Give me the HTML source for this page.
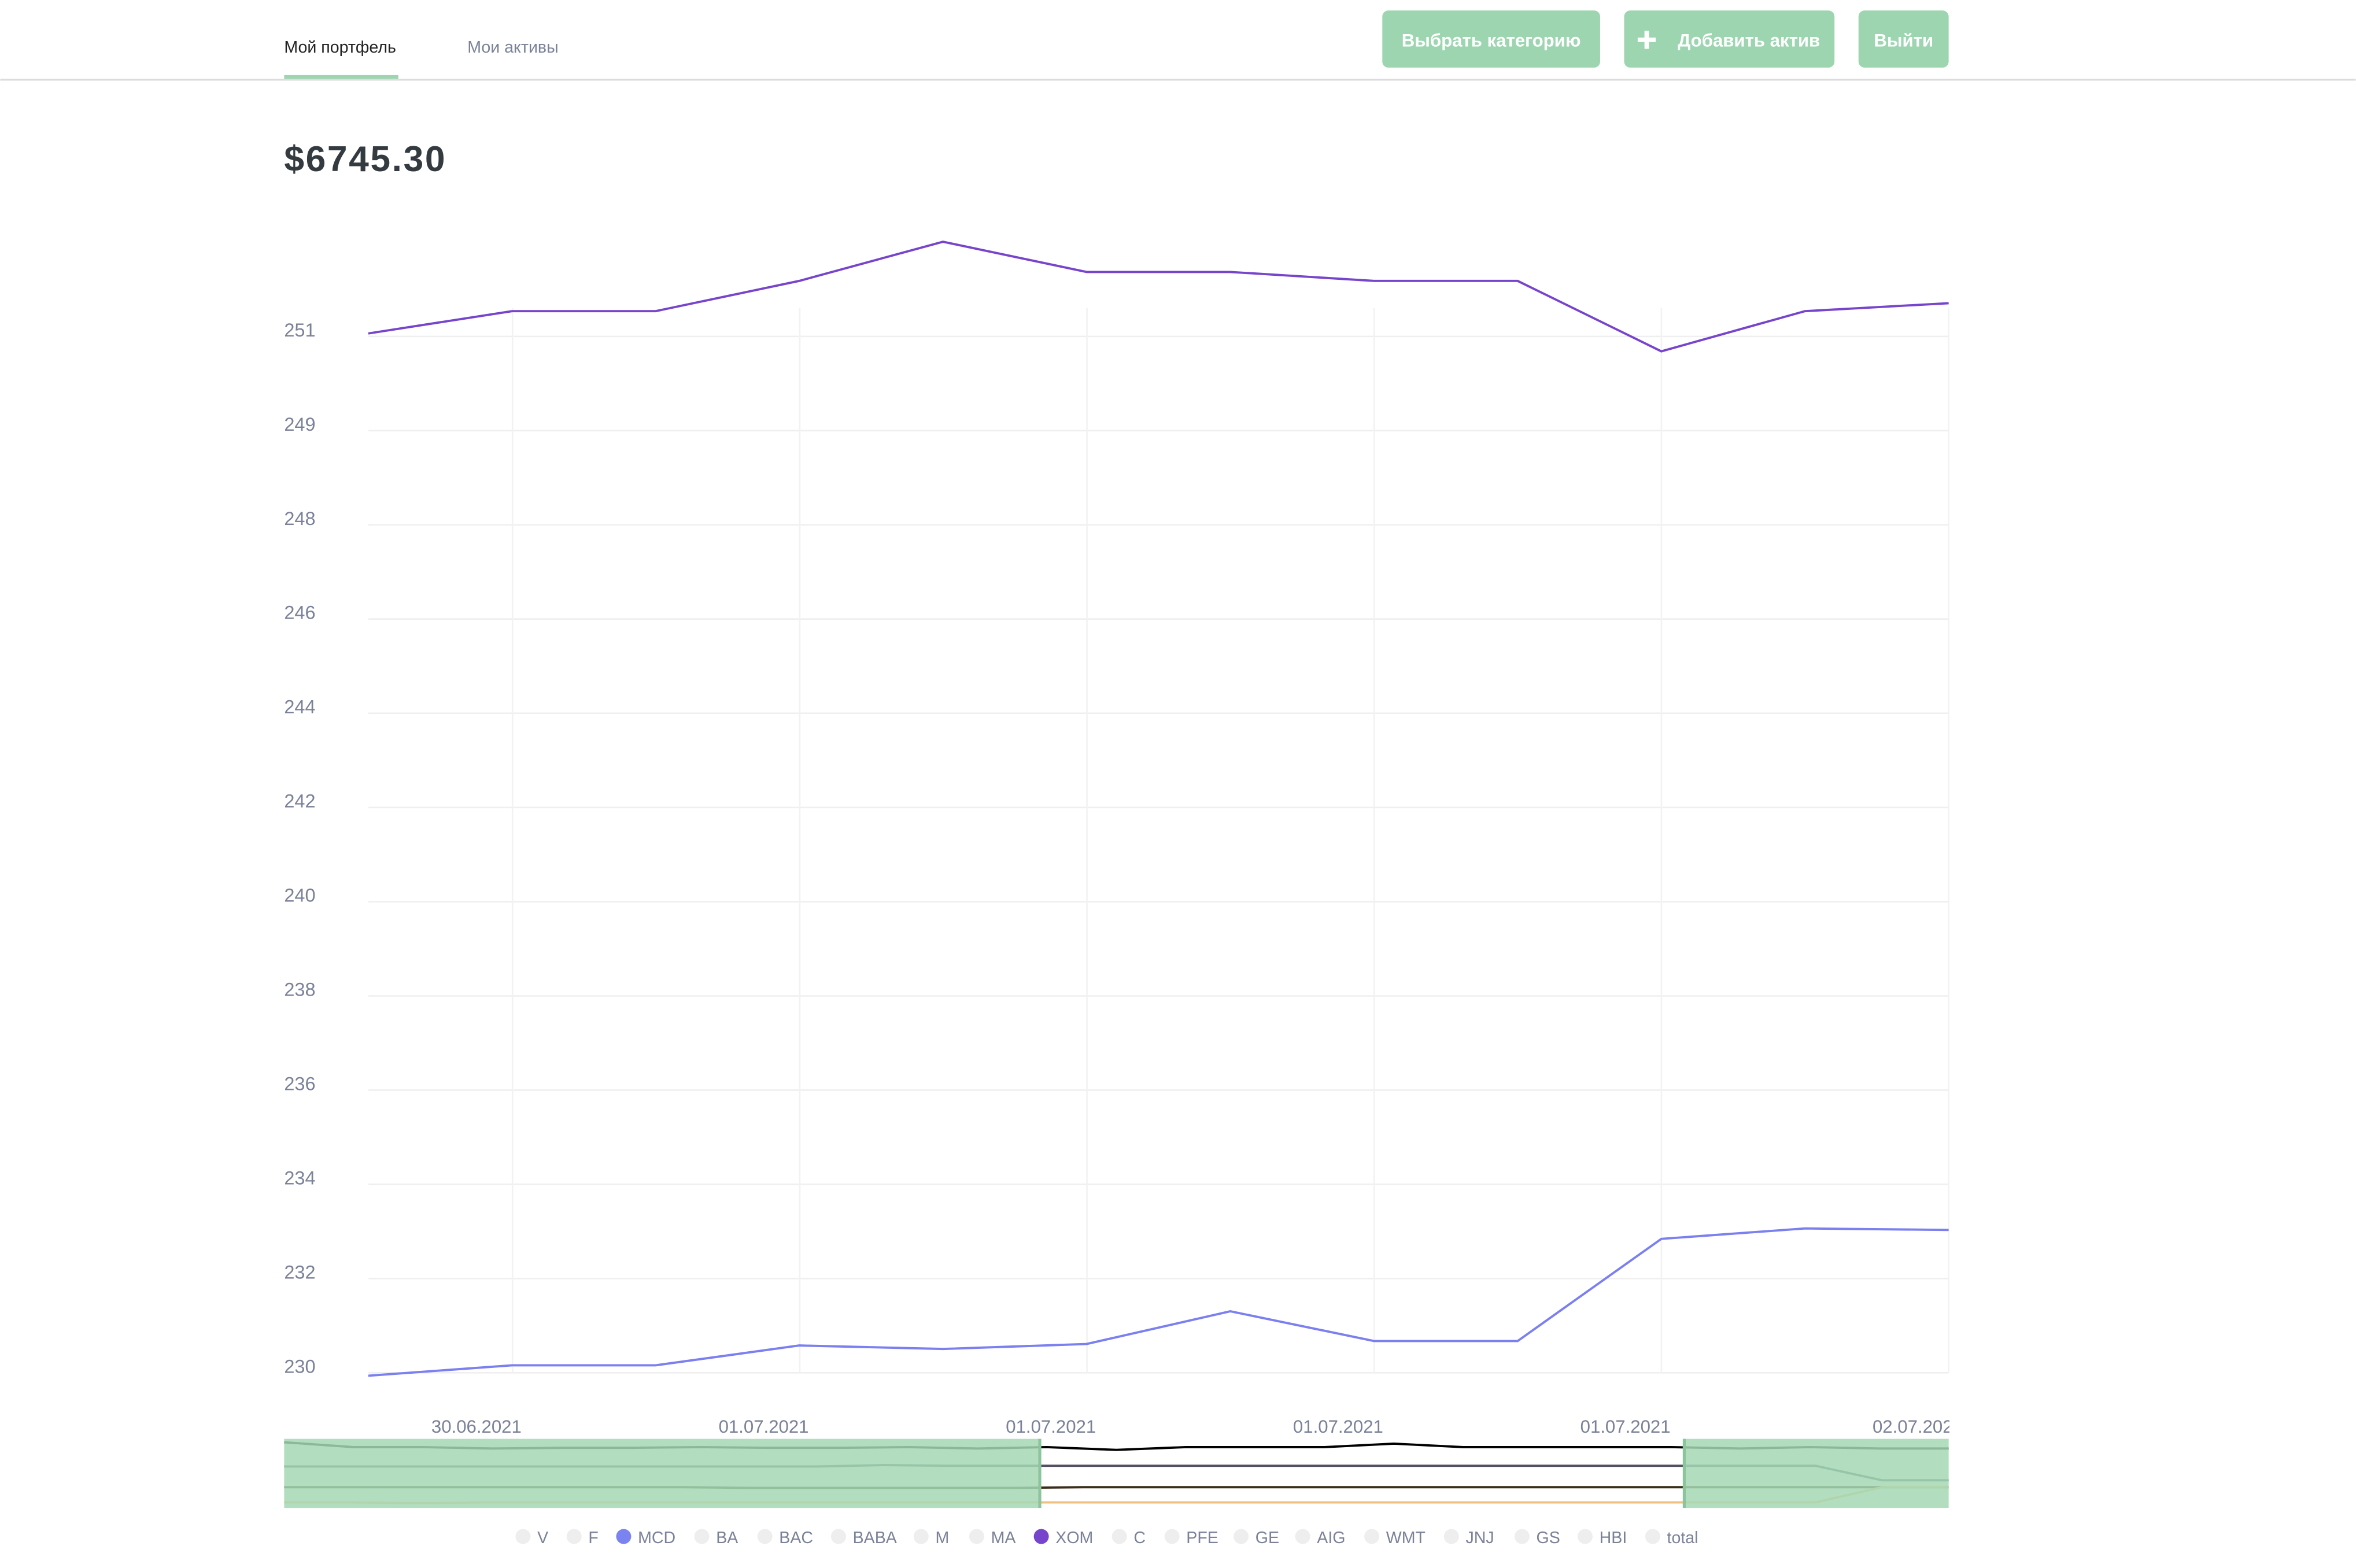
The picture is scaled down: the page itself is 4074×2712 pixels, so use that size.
<!DOCTYPE html>
<html><head><meta charset="utf-8"><style>
html,body{margin:0;padding:0;background:#fff;}
svg{display:block;font-family:"Liberation Sans","DejaVu Sans",sans-serif;}
</style></head><body>
<svg id="s" width="4074" height="2712" viewBox="0 0 1568 1044" xmlns="http://www.w3.org/2000/svg">
<g>
  <text x="189" y="35" font-size="11" fill="#222">Мой портфель</text>
  <rect x="189" y="50" width="76" height="3" fill="#9dd5b0"/>
  <text x="311" y="35" font-size="11" fill="#7a8199">Мои активы</text>
  <rect x="0" y="52.5" width="1568" height="1.2" fill="#dcdcdc"/>
  <g>
    <rect x="920" y="7" width="145" height="38" rx="4" fill="#9dd5b0"/>
    <text x="992.5" y="31" font-size="12" font-weight="bold" fill="#fff" text-anchor="middle">Выбрать категорию</text>
  </g>
  <g>
    <rect x="1081" y="7" width="140" height="38" rx="4" fill="#9dd5b0"/>
    <rect x="1090" y="25" width="12" height="3" fill="#fff"/>
    <rect x="1094.5" y="20.5" width="3" height="12" fill="#fff"/>
    <text x="1164" y="31" font-size="12" font-weight="bold" fill="#fff" text-anchor="middle">Добавить актив</text>
  </g>
  <g>
    <rect x="1237" y="7" width="60" height="38" rx="4" fill="#9dd5b0"/>
    <text x="1267" y="31" font-size="12" font-weight="bold" fill="#fff" text-anchor="middle">Выйти</text>
  </g>
</g>
<text x="189" y="114" font-size="24" font-weight="bold" letter-spacing="1" fill="#333a40">$6745.30</text>
<g id="chart"></g>
<g id="nav"></g>
<g id="legend"></g>
</svg>
<script>
const yTickLabels=["230","232","234","236","238","240","242","244","246","248","249","251"];
const xTickLabels=["30.06.2021","01.07.2021","01.07.2021","01.07.2021","01.07.2021","02.07.202"];
const xomValues=[250.96,251.41,251.41,252.02,252.81,252.20,252.20,252.02,252.02,250.60,251.41,251.57];
const mcdValues=[229.94,230.15,230.15,230.55,230.48,230.58,231.24,230.64,230.64,232.70,232.91,232.88];
const navLine1=[0.95,0.88,0.88,0.86,0.87,0.87,0.88,0.87,0.87,0.88,0.86,0.88,0.84,0.88,0.88,0.88,0.93,0.88,0.88,0.88,0.88,0.86,0.88,0.86,0.86];
const navLine2=[0.60,0.60,0.60,0.60,0.60,0.60,0.60,0.60,0.60,0.62,0.61,0.61,0.61,0.61,0.61,0.61,0.61,0.61,0.61,0.61,0.61,0.61,0.61,0.61,0.40,0.40];
const navLine3=[0.30,0.30,0.30,0.30,0.30,0.30,0.30,0.29,0.29,0.29,0.29,0.29,0.30,0.30,0.30,0.30,0.30,0.30,0.30,0.30,0.30,0.30,0.30,0.30,0.30,0.30];
const navLine4=[0.08,0.08,0.07,0.08,0.08,0.08,0.08,0.08,0.08,0.08,0.08,0.08,0.08,0.08,0.08,0.08,0.08,0.08,0.08,0.08,0.08,0.08,0.08,0.08,0.30,0.30];
const legendNames=["V","F","MCD","BA","BAC","BABA","M","MA","XOM","C","PFE","GE","AIG","WMT","JNJ","GS","HBI","total"];
const legendActive=[0,0,1,0,0,0,0,0,1,0,0,0,0,0,0,0,0,0];

const NS="http://www.w3.org/2000/svg";
function mk(t,a,p){const e=document.createElementNS(NS,t);for(const k in a)e.setAttribute(k,a[k]);p.appendChild(e);return e;}
const X0=245,X1=1297,Y0=914,Y1=224,VMIN=230,VMAX=250.9;
const xs=i=>X0+(X1-X0)*i/(xomValues.length-1);
const ys=v=>Y0-(v-VMIN)/(VMAX-VMIN)*(Y0-Y1);
const chart=document.getElementById('chart');
yTickLabels.forEach((l,i)=>{
  const y=Y0-(Y0-Y1)*i/(yTickLabels.length-1);
  const g=mk('line',{x1:X0,x2:X1,y1:y,y2:y,stroke:'#efefef','stroke-width':1},chart);
  
  
  const t=mk('text',{x:189,y:y,'font-size':12.5,fill:'#7a8199'},chart);
  t.textContent=l;
  
  
});
xTickLabels.forEach((l,i)=>{
  const x=341+(X1-341)*i/(xTickLabels.length-1);
  const g=mk('line',{x1:x,x2:x,y1:205,y2:914,stroke:'#f2f2f2','stroke-width':1},chart);
  
  
  const t=mk('text',{x:x-24,y:954,'font-size':12,fill:'#7a8199','text-anchor':'middle'},chart);
  t.textContent=l;
  
  
});
mk('rect',{x:1297.5,y:935,width:30,height:25,fill:'#fff'},chart);
function series(vals,color,name){
  const p=mk('polyline',{points:vals.map((v,i)=>xs(i)+','+ys(v)).join(' '),fill:'none',stroke:color,'stroke-width':1.5},chart);
  
  
}
series(xomValues,'#7744cc','xom-line');
series(mcdValues,'#7b7ff0','mcd-line');

const nav=document.getElementById('nav');
const NX0=189,NX1=1297,NY0=1004,NY1=958;
function navLine(vals,color,name){
  const p=mk('polyline',{points:vals.map((v,i)=>(NX0+(NX1-NX0)*i/(vals.length-1))+','+(NY0-v*(NY0-NY1))).join(' '),fill:'none',stroke:color,'stroke-width':1.5},nav);
  
  
}
navLine(navLine1,'#000','nav-series-1');
navLine(navLine2,'#555060','nav-series-2');
navLine(navLine3,'#3a2e1a','nav-series-3');
navLine(navLine4,'#f0c080','nav-series-4');
const m1=mk('rect',{x:NX0,y:NY1,width:692-NX0,height:NY0-NY1,fill:'#a5d8b4','fill-opacity':0.85},nav);


const m2=mk('rect',{x:1121,y:NY1,width:NX1-1121,height:NY0-NY1,fill:'#a5d8b4','fill-opacity':0.85},nav);


const h1=mk('rect',{x:691,y:NY1,width:2,height:NY0-NY1,fill:'#8cc49c'},nav);


const h2=mk('rect',{x:1120,y:NY1,width:2,height:NY0-NY1,fill:'#8cc49c'},nav);



const leg=document.getElementById('legend');
const legX=[348,382,415,467,509,558,613,650,693,745,780,826,867,913,966,1013,1055,1100];
const legColors={MCD:'#7b83f0',XOM:'#7744cc'};
legendNames.forEach((n,i)=>{
  const g=mk('g',{},leg);
  
  
  mk('circle',{cx:legX[i],cy:1023,r:5,fill:legendActive[i]?legColors[n]:'#eeeeee'},g);
  const t=mk('text',{x:legX[i]+9.5,y:1027.5,'font-size':11,fill:'#7a8199'},g);
  t.textContent=n;
});
</script>
</body></html>
